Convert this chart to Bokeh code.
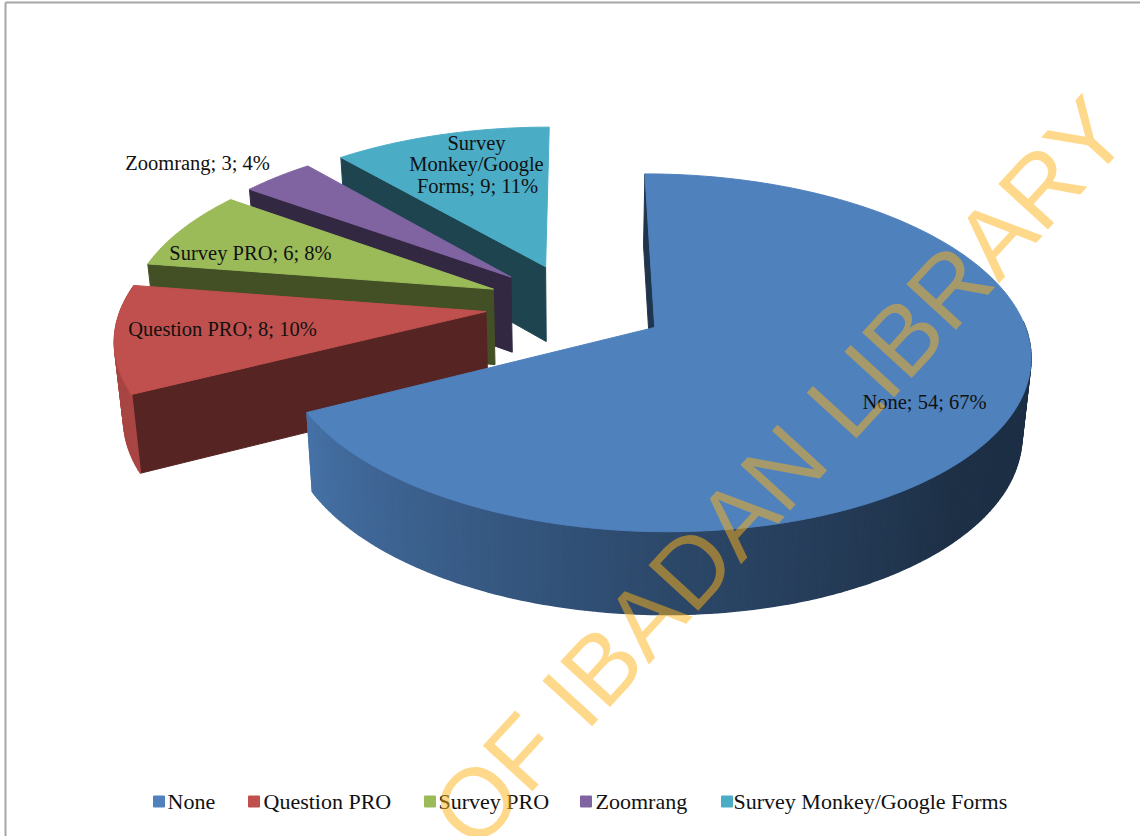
import numpy as np
from bokeh.core.properties import value
from bokeh.embed import file_html
from bokeh.models import Range1d
from bokeh.plotting import figure
from bokeh.resources import INLINE

# Survey tool usage
categories = ["None", "Question PRO", "Survey PRO", "Zoomrang", "Survey Monkey/Google Forms"]
counts = [54, 8, 6, 3, 9]
percents = [67, 10, 8, 4, 11]
colors = ["#4f81bd", "#c0504d", "#9bbb59", "#8064a2", "#4bacc6"]
wall_shade = [0.40, 0.45, 0.43, 0.40, 0.40]

# Tilted-disc projection settings
CX, CY = 575.5, 304.5
RX, RY = 364.0, 169.0
PERSPECTIVE = 0.1395
EXPLODE = 0.249
DEPTH = 76.0
BASE_SCALE = 0.98

FONT = value("Liberation Serif")


def project(X, Y, lower=False):
    X, Y = np.asarray(X, float), np.asarray(Y, float)
    w = 1.0 / (1.0 + PERSPECTIVE * Y)
    x = CX + RX * X * w
    y = CY - RY * Y * w
    if lower:
        x = CX + (x - CX) * BASE_SCALE
        y = y + DEPTH * np.sqrt(w)
    return x, y


def shade(hex_color, factor):
    rgb = [int(hex_color[i:i + 2], 16) for i in (1, 3, 5)]
    return "#%02x%02x%02x" % tuple(int(round(c * factor)) for c in rgb)


def rim_factor(theta):
    # Light falls from the left: the front wall darkens towards the right.
    return float(np.interp(theta, [90, 135, 180, 243, 280], [0.36, 0.37, 0.56, 0.88, 0.86]))


p = figure(
    width=1140, height=836, output_backend="svg", toolbar_location=None,
    x_range=Range1d(0, 1140), y_range=Range1d(836, 0), min_border=0,
)
p.axis.visible = False
p.grid.visible = False
p.outline_line_color = None
p.background_fill_color = "#ffffff"

# Thin page frame along the top and left
p.segment([5, 5], [2, 2], [1140, 5], [2, 836], line_color="#a6a6a6", line_width=2)

# Slice angles clockwise from twelve o'clock
fractions = np.array(counts, float) / sum(counts)
ends = np.cumsum(fractions) * 360.0
starts = ends - fractions * 360.0

# Back slices are painted first so the near ones overlap them.
for i in [4, 3, 2, 1, 0]:
    a0, a1 = starts[i], ends[i]
    mid = np.radians((a0 + a1) / 2)
    ox, oy = EXPLODE * np.sin(mid), EXPLODE * np.cos(mid)
    color = colors[i]

    def rim(theta):
        t = np.radians(theta)
        return ox + np.sin(t), oy + np.cos(t)

    # Flat wall along the slice's starting edge
    rx0, ry0 = rim(a0)
    top_x, top_y = project([ox, rx0], [oy, ry0])
    low_x, low_y = project([ox, rx0], [oy, ry0], lower=True)
    p.patch(
        [top_x[0], top_x[1], low_x[1], low_x[0]],
        [top_y[0], top_y[1], low_y[1], low_y[0]],
        fill_color=shade(color, wall_shade[i]), line_color=shade(color, wall_shade[i]), line_width=1,
    )

    # Curved outer wall, as narrow strips carrying the shading
    front_from, front_to = max(a0, 88.0), min(a1, 279.0)
    if front_to > front_from:
        edges = np.arange(front_from, front_to + 1.0, 1.0)
        edges[-1] = front_to
        xs, ys, fills = [], [], []
        for t0, t1 in zip(edges[:-1], edges[1:]):
            (x0, y0), (x1, y1) = rim(t0), rim(t1)
            ux, uy = project([x0, x1], [y0, y1])
            lx, ly = project([x0, x1], [y0, y1], lower=True)
            xs.append([ux[0], ux[1], lx[1], lx[0]])
            ys.append([uy[0], uy[1], ly[1], ly[0]])
            fills.append(shade(color, rim_factor((t0 + t1) / 2)))
        p.patches(xs, ys, fill_color=fills, line_color=fills, line_width=1.5)

    # Top face
    arc = np.arange(a0, a1 + 0.5, 0.5)
    arc[-1] = a1
    ax, ay = rim(arc)
    fx, fy = project(np.r_[ox, ax], np.r_[oy, ay])
    p.patch(fx.tolist(), fy.tolist(), fill_color=color, line_color=color, line_width=1)

# Slice labels: category; count; percent
label_lines = [
    f"{categories[0]}; {counts[0]}; {percents[0]}%",
    f"{categories[1]}; {counts[1]}; {percents[1]}%",
    f"{categories[2]}; {counts[2]}; {percents[2]}%",
    f"{categories[3]}; {counts[3]}; {percents[3]}%",
    "Survey",
    "Monkey/Google",
    f"Forms; {counts[4]}; {percents[4]}%",
]
label_x = [924, 222, 250, 197, 476, 476, 477]
label_y = [401, 328, 252, 162, 142, 163, 185]
p.text(label_x, label_y, text=label_lines, text_font=FONT, text_font_size="20.5px",
       text_color="#111111", text_align="center", text_baseline="middle")

# Legend row
legend_box_x = [158.5, 253.5, 429.5, 585.5, 726.5]
legend_text_x = [167, 263, 438, 595, 733]
legend_y = [801] * 5
p.rect(legend_box_x, legend_y, width=11, height=11, fill_color=colors, line_color=colors)
p.text(legend_text_x, legend_y, text=categories, text_font=FONT, text_font_size="22px",
       text_color="#111111", text_align="left", text_baseline="middle")

# Library watermark across the page
p.text([1108], [113], text=["OF IBADAN LIBRARY"], angle=[47.45], angle_units="deg",
       text_font=value("Liberation Sans"), text_font_size="98px",
       text_color="#ffb418", text_alpha=0.5, text_align="right", text_baseline="alphabetic")

open("out.html", "w").write(file_html(p, INLINE))
